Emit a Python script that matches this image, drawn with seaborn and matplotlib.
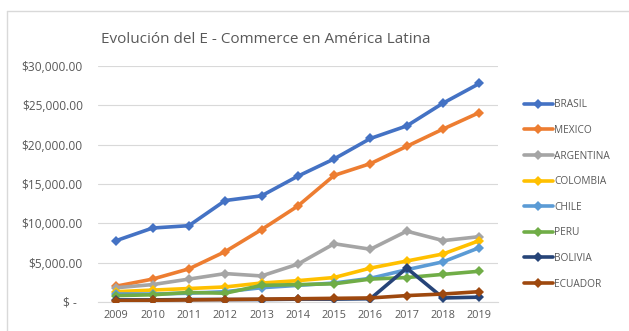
import matplotlib
matplotlib.use("Agg")
import matplotlib.pyplot as plt
from matplotlib.lines import Line2D
from matplotlib.ticker import FuncFormatter
import seaborn as sns
import pandas as pd

years = ["2009", "2010", "2011", "2012", "2013", "2014", "2015", "2016", "2017", "2018", "2019"]
countries = ["BRASIL", "MEXICO", "ARGENTINA", "COLOMBIA", "CHILE", "PERU", "BOLIVIA", "ECUADOR"]

brasil = [7800, 9400, 9700, 12900, 13500, 16000, 18200, 20800, 22400, 25300, 27800]
mexico = [2000, 2900, 4200, 6400, 9200, 12200, 16100, 17600, 19800, 22000, 24100]
argentina = [1800, 2200, 2900, 3600, 3300, 4800, 7400, 6700, 9000, 7800, 8300]
colombia = [1300, 1500, 1700, 1900, 2400, 2700, 3100, 4300, 5200, 6100, 7800]
chile = [1000, 1000, 1100, 1300, 1800, 2100, 2400, 3000, 4100, 5100, 6900]
peru = [800, 900, 1200, 1100, 2100, 2200, 2300, 2900, 3100, 3500, 3900]
bolivia = [250, 250, 300, 300, 300, 350, 350, 400, 4300, 500, 600]
ecuador = [150, 200, 250, 300, 350, 400, 450, 500, 800, 1000, 1300]

colors = ["#4472C4", "#ED7D31", "#A5A5A5", "#FFC000", "#5B9BD5", "#70AD47", "#264478", "#9E480E"]

series = [brasil, mexico, argentina, colombia, chile, peru, bolivia, ecuador]
rows = []
for name, vals in zip(countries, series):
    for i, (yr, v) in enumerate(zip(years, vals)):
        rows.append({"idx": i, "year": yr, "pais": name, "valor": v})
df = pd.DataFrame(rows)

sns.set_theme(style="white")
plt.rcParams["font.family"] = ["Open Sans", "DejaVu Sans"]

fig = plt.figure(figsize=(6.29, 3.31), dpi=100)
ax = fig.add_axes([0.156, 0.088, 0.635, 0.712])

palette = dict(zip(countries, colors))
sns.lineplot(data=df, x="idx", y="valor", hue="pais", hue_order=countries,
             palette=palette, style="pais", style_order=countries,
             markers={c: "D" for c in countries}, dashes=False,
             linewidth=2.6, markersize=5, markeredgewidth=0,
             legend=False, ax=ax, zorder=3)

ax.set_xlim(-0.5, len(years) - 0.5)
ax.set_ylim(0, 30000)
ax.set_xticks(range(len(years)))
ax.set_xticklabels(years)
ax.set_yticks(range(0, 30001, 5000))


def money(v, pos):
    if v == 0:
        return "$ -  "
    return "${:,.2f}".format(v)


ax.yaxis.set_major_formatter(FuncFormatter(money))
ax.set_xlabel("")
ax.set_ylabel("")
ax.grid(axis="y", color="#D9D9D9", linewidth=0.8)
ax.grid(axis="x", visible=False)
for side in ["top", "right", "left"]:
    ax.spines[side].set_visible(False)
ax.spines["bottom"].set_color("#D9D9D9")
ax.spines["bottom"].set_linewidth(0.8)
ax.tick_params(axis="both", length=0, labelcolor="#595959")
ax.tick_params(axis="y", pad=11, labelsize=8.6)
ax.tick_params(axis="x", pad=5.5, labelsize=7.8)

fig.text(0.423, 0.880, "Evolución del E - Commerce en América Latina",
         ha="center", va="center", fontsize=11, color="#595959")

handles = [Line2D([0], [0], color=c, linewidth=2.6, marker="D", markersize=5,
                  markeredgewidth=0) for c in colors]
leg = fig.legend(handles, countries, loc="upper left", bbox_to_anchor=(0.826, 0.712),
                 frameon=False, fontsize=7.3, handlelength=2.9, handletextpad=0.1,
                 labelspacing=1.44, labelcolor="#595959", borderaxespad=0)

# chart frame (left and top edges)
fig.add_artist(Line2D([0.011, 0.011], [0.0, 0.967], color="#D9D9D9", linewidth=1,
                      transform=fig.transFigure))
fig.add_artist(Line2D([0.011, 1.0], [0.967, 0.967], color="#D9D9D9", linewidth=1,
                      transform=fig.transFigure))

fig.savefig("out.png", dpi=100, facecolor="white")
